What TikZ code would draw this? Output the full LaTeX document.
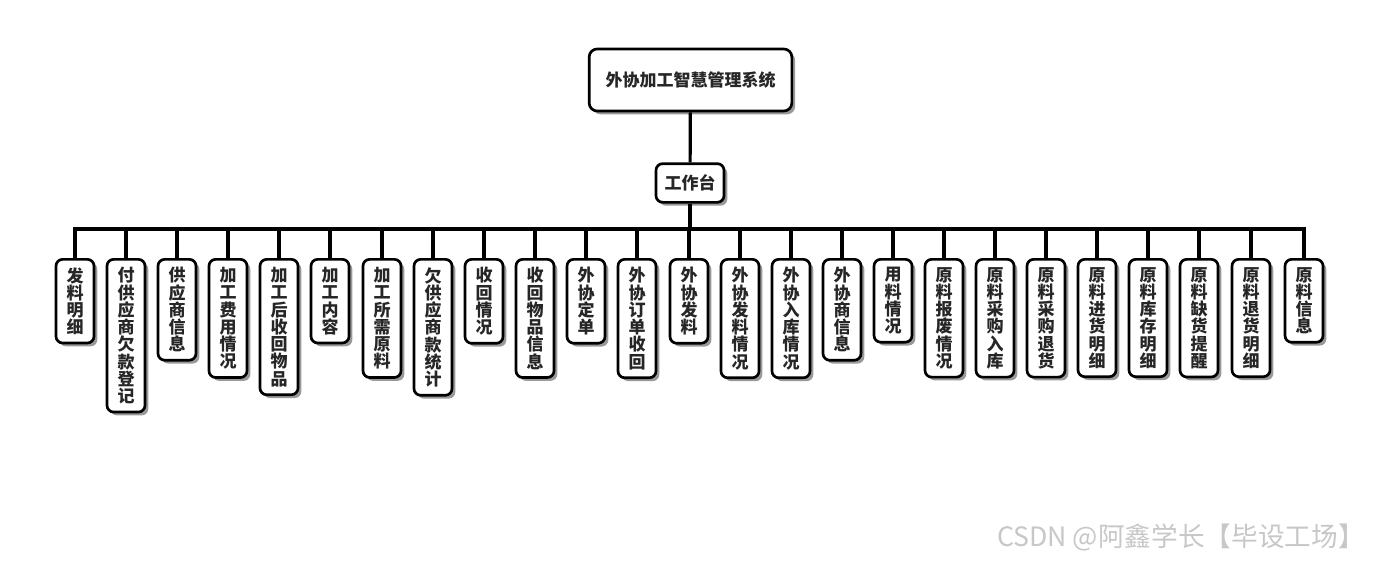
\documentclass[tikz,border=0pt]{standalone}
\usepackage{fontspec}
\setmainfont{Noto Sans CJK SC}
\usetikzlibrary{shadows}
\tikzset{
  box/.style={draw,line width=2pt,rounded corners=5pt,fill=white,text=black!85,
              font=\bfseries\fontsize{12.75}{12.94}\selectfont,
              drop shadow={shadow xshift=2.5pt,shadow yshift=-2.5pt,opacity=0.4,fill=black}},
  root/.style={box,minimum width=152pt,minimum height=46.5pt,rounded corners=6pt},
  hub/.style={box,minimum width=51pt,minimum height=29pt,inner xsep=2pt},
  item/.style={box,anchor=north,align=center,minimum width=28.5pt,inner xsep=0pt,inner ysep=6pt},
  conn/.style={line width=2.4pt},
  wmark/.style={font=\fontsize{20}{22}\selectfont,text=black!22,anchor=east,inner sep=0pt},
}
\begin{document}
\begin{tikzpicture}[x=0.75pt,y=-0.75pt]
  \useasboundingbox (0,0) rectangle (1380,560);
  % ---- top ----
  \node[root] (sys) at (690.5,80) {外协加工智慧管理系统};
  \node[hub] (desk) at (690,183) {工作台};
  \coordinate (bus) at (690,229);
  % ---- modules ----
  \node[item] (c1) at (75,258) {发\\料\\明\\细};
  \node[item] (c2) at (126,258) {付\\供\\应\\商\\欠\\款\\登\\记};
  \node[item] (c3) at (177,258) {供\\应\\商\\信\\息};
  \node[item] (c4) at (228,258) {加\\工\\费\\用\\情\\况};
  \node[item] (c5) at (279,258) {加\\工\\后\\收\\回\\物\\品};
  \node[item] (c6) at (330,258) {加\\工\\内\\容};
  \node[item] (c7) at (382,258) {加\\工\\所\\需\\原\\料};
  \node[item] (c8) at (433,258) {欠\\供\\应\\商\\款\\统\\计};
  \node[item] (c9) at (484,258) {收\\回\\情\\况};
  \node[item] (c10) at (535,258) {收\\回\\物\\品\\信\\息};
  \node[item] (c11) at (586,258) {外\\协\\定\\单};
  \node[item] (c12) at (637,258) {外\\协\\订\\单\\收\\回};
  \node[item] (c13) at (689,258) {外\\协\\发\\料};
  \node[item] (c14) at (740,258) {外\\协\\发\\料\\情\\况};
  \node[item] (c15) at (791,258) {外\\协\\入\\库\\情\\况};
  \node[item] (c16) at (842,258) {外\\协\\商\\信\\息};
  \node[item] (c17) at (893,258) {用\\料\\情\\况};
  \node[item] (c18) at (944,258) {原\\料\\报\\废\\情\\况};
  \node[item] (c19) at (995,258) {原\\料\\采\\购\\入\\库};
  \node[item] (c20) at (1046,258) {原\\料\\采\\购\\退\\货};
  \node[item] (c21) at (1097,258) {原\\料\\进\\货\\明\\细};
  \node[item] (c22) at (1148,258) {原\\料\\库\\存\\明\\细};
  \node[item] (c23) at (1199,258) {原\\料\\缺\\货\\提\\醒};
  \node[item] (c24) at (1251,258) {原\\料\\退\\货\\明\\细};
  \node[item] (c25) at (1304,258) {原\\料\\信\\息};
  % ---- edges ----
  \draw[conn] (sys) -- (desk);
  \draw[conn] (desk) -- (bus);
  \draw[conn] (bus) -| (c1.north);
  \draw[conn] (bus) -| (c2.north);
  \draw[conn] (bus) -| (c3.north);
  \draw[conn] (bus) -| (c4.north);
  \draw[conn] (bus) -| (c5.north);
  \draw[conn] (bus) -| (c6.north);
  \draw[conn] (bus) -| (c7.north);
  \draw[conn] (bus) -| (c8.north);
  \draw[conn] (bus) -| (c9.north);
  \draw[conn] (bus) -| (c10.north);
  \draw[conn] (bus) -| (c11.north);
  \draw[conn] (bus) -| (c12.north);
  \draw[conn] (bus) -| (c13.north);
  \draw[conn] (bus) -| (c14.north);
  \draw[conn] (bus) -| (c15.north);
  \draw[conn] (bus) -| (c16.north);
  \draw[conn] (bus) -| (c17.north);
  \draw[conn] (bus) -| (c18.north);
  \draw[conn] (bus) -| (c19.north);
  \draw[conn] (bus) -| (c20.north);
  \draw[conn] (bus) -| (c21.north);
  \draw[conn] (bus) -| (c22.north);
  \draw[conn] (bus) -| (c23.north);
  \draw[conn] (bus) -| (c24.north);
  \draw[conn] (bus) -| (c25.north);
  % ---- watermark ----
  \node[wmark] (wm) at (1365,537) {CSDN @阿鑫学长【毕设工场】};
\end{tikzpicture}
\end{document}
